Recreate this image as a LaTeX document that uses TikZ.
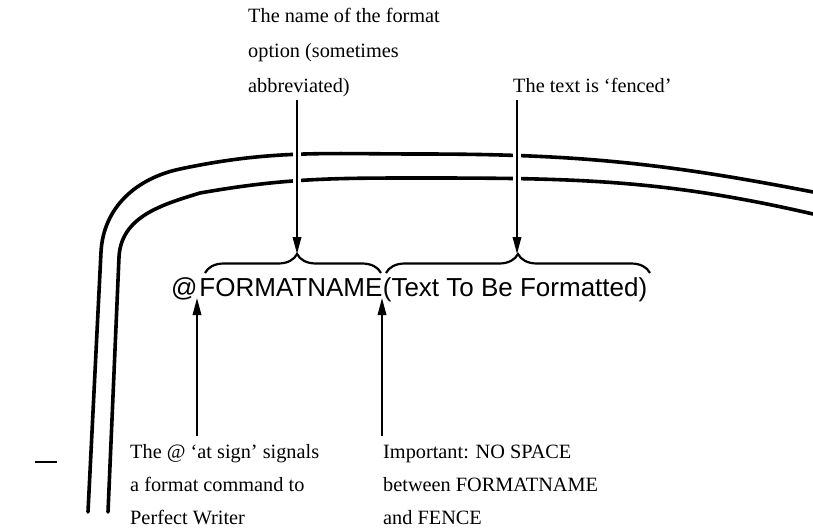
\documentclass[tikz,border=0pt]{standalone}
\usepackage{fontspec}
\setmainfont{Liberation Serif}
\newfontfamily\sansf{Liberation Sans}
\usetikzlibrary{arrows.meta,decorations.pathreplacing}
\begin{document}
\begin{tikzpicture}[x=1pt,y=1pt,
  frame/.style={line width=3.6pt, line cap=round},
  arr/.style={line width=1.8pt, -{Triangle[length=17pt,width=8.5pt]},
              preaction={draw=white, line width=8pt, -}},
  captxt/.style={font=\fontsize{20.3}{35}\selectfont, align=left, inner sep=0pt, anchor=north west},
  captxtb/.style={captxt, font=\fontsize{20.3}{33}\selectfont},
  code/.style={font=\sansf\fontsize{26}{30}\selectfont, inner sep=0pt, anchor=base west},
  fence/.style={line width=2.2pt, decorate, decoration={brace, amplitude=19pt}}]
\useasboundingbox (0,0) rectangle (813,-528);

% screen outline (double curved line)
\draw[frame] (88,-512) -- (101,-252) to[out=87,in=192] (180,-169)
      to[out=12,in=180] (420,-154) to[out=0,in=169] (813,-192);
\draw[frame] (108,-512) -- (119,-257) to[out=87,in=197] (200,-193)
      to[out=10,in=180] (420,-178) to[out=0,in=167] (813,-214);

% stray dash
\draw[line width=2pt] (35,-462) -- (57,-462);

% coordinates
\coordinate (t1) at (297,-100);
\coordinate (t2) at (517,-100);
\coordinate (b1) at (297,-254);
\coordinate (b2) at (517,-254);
\coordinate (u1) at (197,-436);
\coordinate (u2) at (382,-436);

% code line
\node[code] (at) at (171,-296) {@};
\node[code] (fname) at ([xshift=1.5pt]at.base east) {FORMATNAME};
\node[code] (ftext) at (fname.base east) {(Text To Be Formatted)};

% arrows
\draw[arr] (t1) -- (b1);
\draw[arr] (t2) -- (b2);
\draw[arr] (u1) -- (197,-298);
\draw[arr] (u2) -- (382,-298);

% fences
\draw[fence, decoration={aspect=0.523}] (205,-273) -- (381,-273);
\draw[fence] (386,-273) -- (650,-273);

% captions
\node[captxt] (topL) at (248,-8) {The name of the format\\option (sometimes\\abbreviated)};
\node[captxt] (topR) at (513,-78) {The text is ‘fenced’};
\node[captxtb] (botL) at (130,-444) {The @ ‘at sign’ signals\\a format command to\\Perfect Writer};
\node[captxtb] (botR) at (383,-445) {Important: NO SPACE\\between FORMATNAME\\and FENCE};

\end{tikzpicture}
\end{document}
